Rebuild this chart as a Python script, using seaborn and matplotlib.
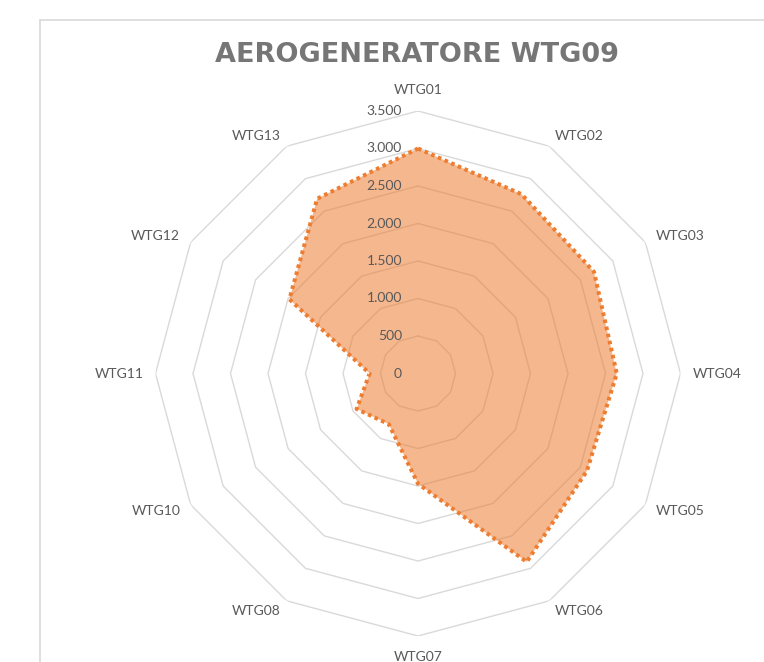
import numpy as np
import pandas as pd
import matplotlib
matplotlib.use("Agg")
import matplotlib.pyplot as plt
from matplotlib import transforms
from matplotlib.lines import Line2D
import seaborn as sns

# ---- data ----
categories = ["WTG01", "WTG02", "WTG03", "WTG04", "WTG05", "WTG06",
              "WTG07", "WTG08", "WTG10", "WTG11", "WTG12", "WTG13"]
values = [3000, 2760, 2710, 2650, 2600, 2900, 1470, 780, 945, 645, 1980, 2690]
tick_values = [0, 500, 1000, 1500, 2000, 2500, 3000, 3500]
tick_labels = ["0", "500", "1.000", "1.500", "2.000", "2.500", "3.000", "3.500"]
title = "AEROGENERATORE WTG09"

sns.set_theme(style="white")
plt.rcParams["font.family"] = ["Lato", "DejaVu Sans"]

W, H = 764, 662
fig = plt.figure(figsize=(W / 100, H / 100), dpi=100)
fig.patch.set_facecolor("white")

# chart frame (Excel chart area border, cropped)
fig.add_artist(Line2D([40 / W, 40 / W], [0, 1 - 20 / H], color="#d9d9d9", lw=1.2,
                      transform=fig.transFigure))
fig.add_artist(Line2D([40 / W, 1], [1 - 20 / H, 1 - 20 / H], color="#d9d9d9", lw=1.2,
                      transform=fig.transFigure))

cx, cy, R = 418, 373.5, 262.5
ax = fig.add_axes([(cx - R) / W, (H - cy - R) / H, 2 * R / W, 2 * R / H],
                  projection="polar")
ax.set_theta_zero_location("N")
ax.set_theta_direction(-1)
ax.patch.set_alpha(0)

n = len(categories)
theta = np.arange(n) * 2 * np.pi / n
theta_closed = np.append(theta, 2 * np.pi)

# polygonal grid rings
for rv in tick_values[1:]:
    ax.plot(theta_closed, [rv] * (n + 1), color="#d9d9d9", lw=1.0, zorder=1)

df = pd.DataFrame({"theta": theta_closed, "value": values + values[:1]})
ax.fill(df["theta"], df["value"], color="#ED7D31", alpha=0.55, lw=0, zorder=2)
sns.lineplot(data=df, x="theta", y="value", ax=ax, color="#ED7D31", lw=2.9,
             linestyle=(0, (0.9, 0.9)), sort=False, zorder=3, legend=False)

ax.set_ylim(0, 3500)
ax.grid(False)
ax.spines["polar"].set_visible(False)
ax.set_xticks([])
ax.set_yticks([])
ax.set_xlabel("")
ax.set_ylabel("")

# radial value labels
for tv, tl in zip(tick_values, tick_labels):
    tr = transforms.offset_copy(ax.transData, fig=fig, x=-16, y=0, units="dots")
    ax.text(0, tv, tl, transform=tr, ha="right", va="center", fontsize=10,
            color="#595959", zorder=4)

# category labels
for ang, cat in zip(theta, categories):
    dx, dy = np.sin(ang), np.cos(ang)
    if abs(dx) < 0.1:
        off = 15
        ha = "center"
        va = "bottom" if dy > 0 else "top"
    else:
        off = 12
        ha = "left" if dx > 0 else "right"
        va = "center"
    tr = transforms.offset_copy(ax.transData, fig=fig, x=off * dx, y=off * dy,
                                units="dots")
    ax.text(ang, 3500, cat, transform=tr, ha=ha, va=va, fontsize=10,
            color="#595959", clip_on=False)

fig.text(417 / W, 1 - 55 / H, title, ha="center", va="center",
         fontsize=19.5, fontweight="bold", color="#767676",
         family=["DejaVu Sans"])

fig.savefig("out.png", dpi=100, facecolor="white")
